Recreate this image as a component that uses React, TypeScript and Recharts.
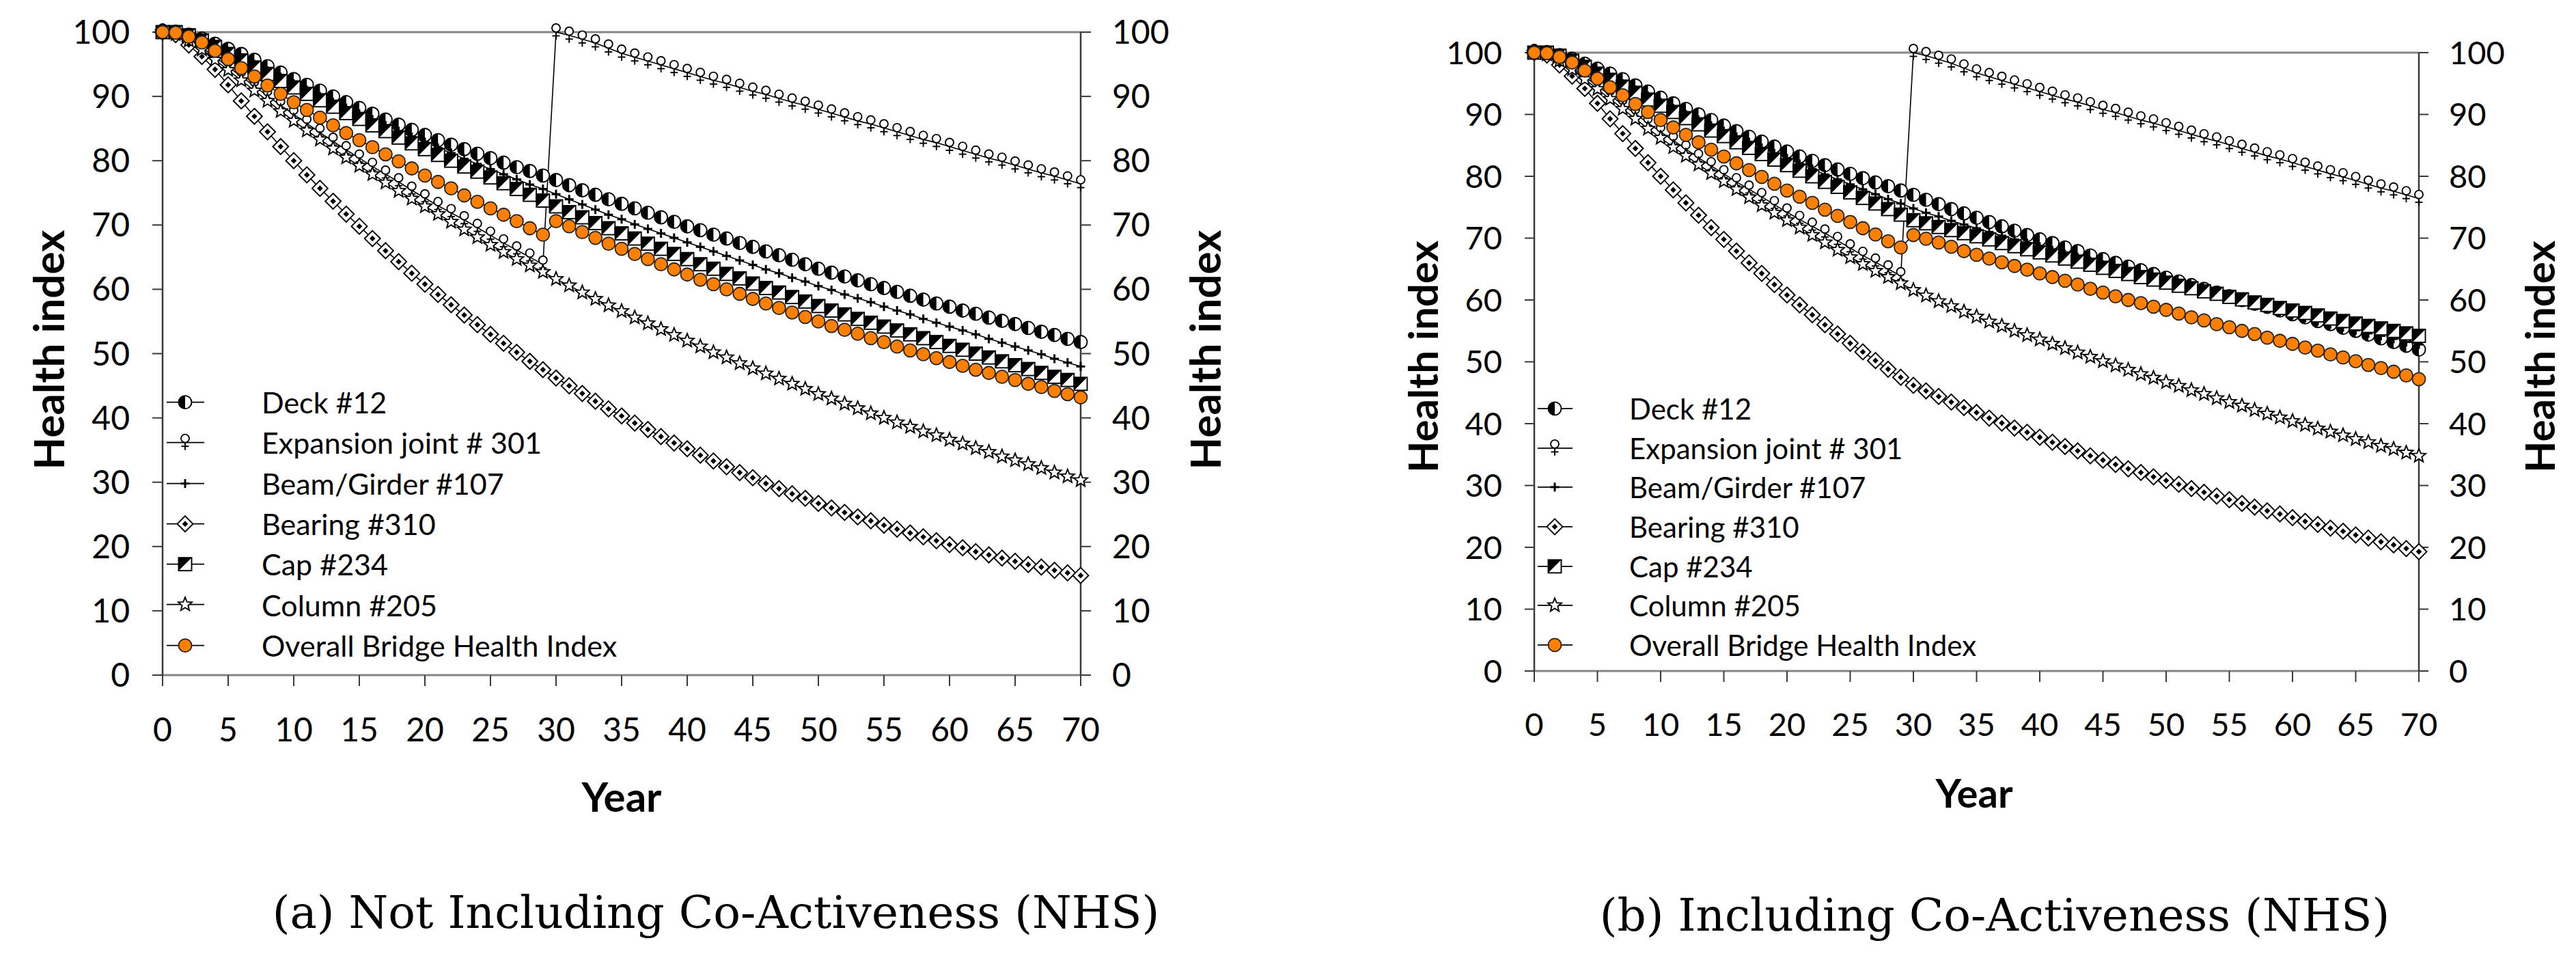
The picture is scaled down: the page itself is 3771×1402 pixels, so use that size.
import React from 'react';
import { LineChart, Line, XAxis, YAxis, Legend, ReferenceLine } from 'recharts';

// ---------- categories & ticks ----------
const years = [
  0, 1, 2, 3, 4, 5, 6, 7, 8, 9, 10, 11, 12, 13, 14, 15, 16, 17, 18, 19, 20,
  21, 22, 23, 24, 25, 26, 27, 28, 29, 30, 31, 32, 33, 34, 35, 36, 37, 38, 39, 40,
  41, 42, 43, 44, 45, 46, 47, 48, 49, 50, 51, 52, 53, 54, 55, 56, 57, 58, 59, 60,
  61, 62, 63, 64, 65, 66, 67, 68, 69, 70,
];
const xTicks = [0, 5, 10, 15, 20, 25, 30, 35, 40, 45, 50, 55, 60, 65, 70];
const yTicks = [0, 10, 20, 30, 40, 50, 60, 70, 80, 90, 100];

const seriesKeys = ['deck', 'exp', 'beam', 'bearing', 'cap', 'column', 'overall'];
const seriesLabels = [
  'Deck #12',
  'Expansion joint # 301',
  'Beam/Girder #107',
  'Bearing #310',
  'Cap #234',
  'Column #205',
  'Overall Bridge Health Index',
];

// ---------- (a) Not including co-activeness ----------
const deckA = [
  100, 100, 99.6, 99.0, 98.2, 97.4, 96.6, 95.7, 94.7, 93.7,
  92.7, 91.8, 90.9, 90.0, 89.1, 88.2, 87.3, 86.4, 85.6, 84.8,
  84.0, 83.2, 82.5, 81.8, 81.1, 80.4, 79.7, 79.0, 78.4, 77.7,
  77.0, 76.2, 75.4, 74.7, 74.0, 73.3, 72.6, 71.9, 71.2, 70.5,
  69.8, 69.2, 68.5, 67.9, 67.2, 66.6, 65.9, 65.3, 64.6, 63.9,
  63.2, 62.6, 62.0, 61.4, 60.8, 60.2, 59.6, 59.0, 58.4, 57.8,
  57.3, 56.7, 56.2, 55.6, 55.1, 54.6, 54.0, 53.4, 52.9, 52.3,
  51.8,
];
const expA = [
  100, 99.8, 98.9, 97.6, 96.1, 94.6, 93.1, 91.6, 90.1, 88.6,
  87.2, 85.8, 84.4, 83.0, 81.7, 80.4, 79.1, 77.9, 76.7, 75.4,
  74.2, 73.0, 71.9, 70.8, 69.6, 68.4, 67.2, 66.1, 65.0, 63.9,
  100, 99.5, 98.9, 98.3, 97.5, 96.7, 96.1, 95.5, 94.9, 94.3,
  93.7, 93.1, 92.5, 92.0, 91.4, 90.8, 90.3, 89.7, 89.1, 88.6,
  88.0, 87.4, 86.8, 86.2, 85.7, 85.1, 84.5, 83.9, 83.3, 82.8,
  82.2, 81.6, 81.0, 80.4, 79.9, 79.3, 78.7, 78.1, 77.6, 77.0,
  76.4,
];
const beamA = [
  100, 100, 99.6, 98.9, 98.0, 97.0, 96.0, 95.0, 94.0, 93.0,
  92.0, 91.0, 90.0, 89.1, 88.2, 87.3, 86.4, 85.5, 84.6, 83.7,
  82.9, 82.0, 81.2, 80.3, 79.5, 78.7, 77.9, 77.1, 76.3, 75.6,
  74.8, 74.0, 73.2, 72.4, 71.6, 70.9, 70.1, 69.4, 68.7, 68.0,
  67.3, 66.6, 65.9, 65.2, 64.5, 63.8, 63.1, 62.5, 61.8, 61.2,
  60.5, 59.9, 59.2, 58.6, 58.0, 57.3, 56.7, 56.1, 55.4, 54.8,
  54.2, 53.6, 53.0, 52.3, 51.7, 51.1, 50.5, 49.9, 49.2, 48.6,
  48.0,
];
const bearingA = [
  100, 99.6, 98.0, 96.2, 94.2, 91.8, 89.3, 86.9, 84.5, 82.2,
  80.0, 77.8, 75.7, 73.7, 71.7, 69.8, 67.9, 66.0, 64.3, 62.5,
  60.8, 59.2, 57.6, 56.0, 54.5, 53.0, 51.6, 50.2, 48.8, 47.5,
  46.2, 45.0, 43.8, 42.6, 41.4, 40.3, 39.2, 38.2, 37.1, 36.1,
  35.2, 34.2, 33.3, 32.4, 31.5, 30.7, 29.8, 29.0, 28.2, 27.5,
  26.7, 26.0, 25.3, 24.6, 24.0, 23.3, 22.7, 22.1, 21.5, 20.9,
  20.3, 19.8, 19.2, 18.7, 18.2, 17.7, 17.2, 16.8, 16.3, 15.9,
  15.5,
];
const capA = [
  100, 100, 99.5, 98.7, 97.7, 96.6, 95.6, 94.5, 93.5, 92.4,
  91.4, 90.4, 89.4, 88.4, 87.4, 86.5, 85.5, 84.6, 83.6, 82.7,
  81.8, 80.9, 80.0, 79.1, 78.3, 77.4, 76.5, 75.6, 74.7, 73.8,
  72.9, 72.0, 71.2, 70.3, 69.5, 68.7, 67.9, 67.1, 66.3, 65.5,
  64.7, 63.9, 63.2, 62.4, 61.7, 60.9, 60.2, 59.5, 58.8, 58.1,
  57.4, 56.7, 56.1, 55.4, 54.8, 54.2, 53.6, 53.0, 52.4, 51.8,
  51.2, 50.6, 50.0, 49.4, 48.8, 48.2, 47.6, 47.0, 46.4, 45.9,
  45.3,
];
const columnA = [
  100, 99.7, 98.7, 97.3, 95.7, 94.1, 92.5, 90.9, 89.3, 87.7,
  86.2, 84.7, 83.3, 81.9, 80.5, 79.2, 77.9, 76.6, 75.3, 74.1,
  72.9, 71.7, 70.5, 69.3, 68.1, 66.9, 65.8, 64.7, 63.7, 62.7,
  61.6, 60.6, 59.5, 58.5, 57.5, 56.6, 55.6, 54.7, 53.8, 52.9,
  52.0, 51.1, 50.2, 49.4, 48.5, 47.7, 46.9, 46.1, 45.3, 44.5,
  43.7, 43.0, 42.2, 41.5, 40.7, 40.0, 39.3, 38.6, 37.9, 37.3,
  36.6, 36.0, 35.3, 34.7, 34.0, 33.4, 32.8, 32.2, 31.5, 30.9,
  30.3,
];
const overallA = [
  100, 99.9, 99.3, 98.4, 97.1, 95.8, 94.4, 93.1, 91.7, 90.4,
  89.1, 87.9, 86.7, 85.5, 84.3, 83.2, 82.1, 81.0, 79.9, 78.8,
  77.7, 76.7, 75.7, 74.6, 73.6, 72.6, 71.6, 70.6, 69.5, 68.5,
  70.6, 69.8, 68.9, 68.0, 67.1, 66.3, 65.5, 64.7, 63.9, 63.1,
  62.3, 61.5, 60.8, 60.0, 59.3, 58.5, 57.8, 57.1, 56.4, 55.7,
  55.0, 54.3, 53.7, 53.1, 52.4, 51.8, 51.1, 50.5, 49.9, 49.3,
  48.7, 48.1, 47.5, 47.0, 46.4, 45.9, 45.3, 44.8, 44.2, 43.7,
  43.2,
];

// ---------- (b) Including co-activeness ----------
const deckB = [
  100, 100, 99.6, 99.0, 98.2, 97.4, 96.6, 95.7, 94.7, 93.7,
  92.7, 91.8, 90.9, 90.0, 89.1, 88.2, 87.3, 86.4, 85.6, 84.8,
  84.0, 83.2, 82.5, 81.8, 81.1, 80.4, 79.7, 79.0, 78.4, 77.7,
  77.0, 76.2, 75.5, 74.7, 74.0, 73.3, 72.6, 71.9, 71.2, 70.5,
  69.8, 69.2, 68.5, 67.9, 67.2, 66.6, 66.0, 65.4, 64.8, 64.2,
  63.6, 63.0, 62.4, 61.8, 61.2, 60.6, 60.0, 59.4, 58.9, 58.3,
  57.7, 57.2, 56.6, 56.1, 55.5, 55.0, 54.4, 53.8, 53.2, 52.6,
  52.0,
];
const expB = [
  100, 99.8, 98.9, 97.6, 96.1, 94.6, 93.1, 91.6, 90.1, 88.6,
  87.2, 85.8, 84.4, 83.0, 81.7, 80.4, 79.1, 77.9, 76.7, 75.4,
  74.2, 73.0, 71.9, 70.8, 69.6, 68.4, 67.2, 66.1, 65.0, 63.9,
  100, 99.5, 98.9, 98.3, 97.5, 96.7, 96.1, 95.5, 94.9, 94.3,
  93.7, 93.1, 92.5, 92.0, 91.4, 90.8, 90.3, 89.7, 89.1, 88.6,
  88.0, 87.4, 86.8, 86.2, 85.7, 85.1, 84.5, 83.9, 83.3, 82.8,
  82.2, 81.6, 81.0, 80.4, 79.9, 79.3, 78.7, 78.1, 77.6, 77.0,
  76.4,
];
const beamB = [
  100, 100, 99.6, 98.9, 98.0, 97.0, 96.0, 95.0, 94.0, 93.0,
  92.0, 91.0, 90.0, 89.1, 88.2, 87.3, 86.4, 85.5, 84.6, 83.7,
  82.9, 82.0, 81.2, 80.3, 79.5, 78.7, 77.9, 77.1, 76.3, 75.6,
  74.8, 74.1, 73.5, 72.8, 72.2, 71.6, 71.0, 70.4, 69.8, 69.2,
  68.6, 68.0, 67.4, 66.9, 66.3, 65.7, 65.1, 64.6, 64.0, 63.5,
  62.9, 62.4, 61.8, 61.3, 60.7, 60.2, 59.7, 59.1, 58.6, 58.1,
  57.6, 57.1, 56.6, 56.1, 55.6, 55.1, 54.6, 54.2, 53.7, 53.2,
  52.8,
];
const bearingB = [
  100, 99.6, 98.0, 96.2, 94.2, 91.8, 89.3, 86.9, 84.5, 82.2,
  80.0, 77.8, 75.7, 73.7, 71.7, 69.8, 67.9, 66.0, 64.3, 62.5,
  60.8, 59.2, 57.6, 56.0, 54.5, 53.0, 51.6, 50.2, 48.8, 47.5,
  46.2, 45.3, 44.4, 43.5, 42.6, 41.8, 40.9, 40.1, 39.3, 38.6,
  37.8, 37.0, 36.3, 35.6, 34.8, 34.1, 33.4, 32.7, 32.1, 31.4,
  30.8, 30.2, 29.5, 28.9, 28.3, 27.7, 27.1, 26.5, 25.9, 25.4,
  24.8, 24.2, 23.7, 23.1, 22.6, 22.0, 21.5, 20.9, 20.4, 19.8,
  19.3,
];
const capB = [
  100, 100, 99.5, 98.7, 97.7, 96.6, 95.6, 94.5, 93.5, 92.4,
  91.4, 90.4, 89.4, 88.4, 87.4, 86.5, 85.5, 84.6, 83.6, 82.7,
  81.8, 80.9, 80.0, 79.1, 78.3, 77.4, 76.5, 75.6, 74.7, 73.8,
  72.9, 72.4, 71.8, 71.3, 70.8, 70.3, 69.8, 69.2, 68.7, 68.2,
  67.7, 67.2, 66.7, 66.2, 65.7, 65.2, 64.7, 64.2, 63.7, 63.3,
  62.8, 62.3, 61.9, 61.4, 61.0, 60.5, 60.1, 59.6, 59.2, 58.7,
  58.3, 57.9, 57.5, 57.0, 56.6, 56.2, 55.8, 55.4, 55.0, 54.6,
  54.2,
];
const columnB = [
  100, 99.7, 98.7, 97.3, 95.7, 94.1, 92.5, 90.9, 89.3, 87.7,
  86.2, 84.7, 83.3, 81.9, 80.5, 79.2, 77.9, 76.6, 75.3, 74.1,
  72.9, 71.7, 70.5, 69.3, 68.1, 66.9, 65.8, 64.7, 63.7, 62.7,
  61.6, 60.7, 59.8, 59.0, 58.1, 57.3, 56.5, 55.8, 55.0, 54.3,
  53.6, 52.9, 52.2, 51.5, 50.8, 50.1, 49.4, 48.7, 48.0, 47.4,
  46.7, 46.1, 45.4, 44.8, 44.1, 43.5, 42.9, 42.2, 41.6, 41.0,
  40.4, 39.8, 39.2, 38.7, 38.1, 37.5, 37.0, 36.4, 35.9, 35.3,
  34.8,
];
const overallB = [
  100, 99.9, 99.3, 98.4, 97.1, 95.8, 94.4, 93.1, 91.7, 90.4,
  89.1, 87.9, 86.7, 85.5, 84.3, 83.2, 82.1, 81.0, 79.9, 78.8,
  77.7, 76.7, 75.7, 74.6, 73.6, 72.6, 71.6, 70.6, 69.5, 68.5,
  70.5, 69.9, 69.3, 68.6, 67.9, 67.3, 66.7, 66.1, 65.5, 64.9,
  64.3, 63.7, 63.1, 62.5, 61.8, 61.2, 60.6, 60.0, 59.5, 58.9,
  58.4, 57.8, 57.2, 56.7, 56.1, 55.6, 55.0, 54.5, 53.9, 53.4,
  52.9, 52.3, 51.8, 51.2, 50.7, 50.1, 49.5, 49.0, 48.4, 47.8,
  47.2,
];

const buildRows = (s: number[][]) =>
  years.map((year, i) => ({
    year,
    deck: s[0][i],
    exp: s[1][i],
    beam: s[2][i],
    bearing: s[3][i],
    cap: s[4][i],
    column: s[5][i],
    overall: s[6][i],
  }));

const dataA = buildRows([deckA, expA, beamA, bearingA, capA, columnA, overallA]);
const dataB = buildRows([deckB, expB, beamB, bearingB, capB, columnB, overallB]);

// ---------- styling ----------
const FONT = "Lato, 'Open Sans', sans-serif";
const SERIF = "'DejaVu Serif', 'Liberation Serif', serif";
const ORANGE = '#FF8000';
const INK = '#000';

function Marker({ kind, cx, cy }: { kind: string; cx: number; cy: number }) {
  const sw = 1.9;
  switch (kind) {
    case 'deck': {
      const r = 9.5;
      return (
        <g>
          <circle cx={cx} cy={cy} r={r} fill="#fff" stroke={INK} strokeWidth={sw} />
          <path d={`M ${cx} ${cy - r} A ${r} ${r} 0 0 0 ${cx} ${cy + r} Z`} fill={INK} />
        </g>
      );
    }
    case 'exp':
      return (
        <g stroke={INK} strokeWidth={sw}>
          <line x1={cx} y1={cy - 0.5} x2={cx} y2={cy + 11} />
          <line x1={cx - 5.5} y1={cy + 5.5} x2={cx + 5.5} y2={cy + 5.5} />
          <circle cx={cx} cy={cy - 6} r={6} fill="#fff" />
        </g>
      );
    case 'beam':
      return (
        <g stroke={INK} strokeWidth={3}>
          <line x1={cx - 6.5} y1={cy} x2={cx + 6.5} y2={cy} />
          <line x1={cx} y1={cy - 6.5} x2={cx} y2={cy + 6.5} />
        </g>
      );
    case 'bearing': {
      const h = 11.5;
      const d = 4.3;
      return (
        <g>
          <path
            d={`M ${cx} ${cy - h} L ${cx + h} ${cy} L ${cx} ${cy + h} L ${cx - h} ${cy} Z`}
            fill="#fff"
            stroke={INK}
            strokeWidth={sw}
          />
          <path d={`M ${cx} ${cy - d} L ${cx + d} ${cy} L ${cx} ${cy + d} L ${cx - d} ${cy} Z`} fill={INK} />
        </g>
      );
    }
    case 'cap': {
      const h = 9.5;
      return (
        <g>
          <rect x={cx - h} y={cy - h} width={2 * h} height={2 * h} fill="#fff" stroke={INK} strokeWidth={sw} />
          <path d={`M ${cx - h} ${cy - h} L ${cx + h} ${cy - h} L ${cx - h} ${cy + h} Z`} fill={INK} />
        </g>
      );
    }
    case 'column': {
      const ro = 10.5;
      const ri = 4.6;
      const pts: string[] = [];
      for (let k = 0; k < 10; k++) {
        const rr = k % 2 === 0 ? ro : ri;
        const a = -Math.PI / 2 + (k * Math.PI) / 5;
        pts.push(`${cx + rr * Math.cos(a)},${cy + rr * Math.sin(a)}`);
      }
      return <polygon points={pts.join(' ')} fill="#fff" stroke={INK} strokeWidth={sw} />;
    }
    default:
      return <circle cx={cx} cy={cy} r={9.5} fill={ORANGE} stroke="#222" strokeWidth={1.8} />;
  }
}

const dotRenderer = (kind: string) => (props: any) => {
  const { cx, cy, index } = props;
  if (cx == null || cy == null) return <g key={`${kind}-${index}`} />;
  return <Marker key={`${kind}-${index}`} kind={kind} cx={cx} cy={cy} />;
};

type PanelCfg = {
  left: number;
  width: number;
  height: number;
  top: number;
  yLeftW: number;
  yRightW: number;
  xAxisH: number;
  tickFont: number;
  tickLen: number;
  yTickMargin: number;
  yRightTickMargin: number;
  xTickMargin: number;
  titleFont: number;
  yearFont: number;
  leftTitleX: number;
  rightTitleX: number;
  titleMidY: number;
  yearX: number;
  yearY: number;
  legLeft: number;
  legTop: number;
  legRowH: number;
  legIconW: number;
  legLineX1: number;
  legLineX2: number;
  legMarkerX: number;
  legFont: number;
};

const cfgA: PanelCfg = {
  left: 0, width: 1800, height: 1250, top: 47,
  yLeftW: 238, yRightW: 218, xAxisH: 262,
  tickFont: 48, tickLen: 15, yTickMargin: 33, yRightTickMargin: 31, xTickMargin: 47,
  titleFont: 62, yearFont: 60, leftTitleX: 70, rightTitleX: 1763, titleMidY: 512,
  yearX: 910, yearY: 1165,
  legLeft: 240, legTop: 559, legRowH: 59.3, legIconW: 143, legLineX1: 4, legLineX2: 59, legMarkerX: 31, legFont: 43,
};

const cfgB: PanelCfg = {
  left: 1900, width: 1871, height: 1250, top: 77,
  yLeftW: 346, yRightW: 230, xAxisH: 268,
  tickFont: 47, tickLen: 14, yTickMargin: 33, yRightTickMargin: 30, xTickMargin: 46,
  titleFont: 60, yearFont: 58, leftTitleX: 182, rightTitleX: 1817, titleMidY: 522,
  yearX: 990, yearY: 1159,
  legLeft: 347, legTop: 569, legRowH: 57.7, legIconW: 138, legLineX1: 4, legLineX2: 55, legMarkerX: 29, legFont: 42,
};

function LegendBox({ cfg }: { cfg: PanelCfg }) {
  return (
    <div style={{ fontFamily: FONT }}>
      {seriesKeys.map((k, i) => (
        <div key={k} style={{ display: 'flex', alignItems: 'center', height: cfg.legRowH }}>
          <svg width={cfg.legIconW} height={cfg.legRowH} style={{ display: 'block', flex: 'none' }}>
            <line
              x1={cfg.legLineX1}
              x2={cfg.legLineX2}
              y1={cfg.legRowH / 2}
              y2={cfg.legRowH / 2}
              stroke={INK}
              strokeWidth={1.8}
            />
            <Marker kind={k} cx={cfg.legMarkerX} cy={cfg.legRowH / 2} />
          </svg>
          <span style={{ fontSize: cfg.legFont, color: '#000', whiteSpace: 'nowrap', lineHeight: 1 }}>
            {seriesLabels[i]}
          </span>
        </div>
      ))}
    </div>
  );
}

function Panel({ data, cfg }: { data: any[]; cfg: PanelCfg }) {
  const axisDark = { stroke: '#3a3a3a', strokeWidth: 2.5 };
  const axisGray = { stroke: '#858585', strokeWidth: 3 };
  const tickStyle = { fill: '#000', fontSize: cfg.tickFont, fontFamily: FONT };
  const titleStyle = { fontFamily: FONT, fontWeight: 700, fontSize: cfg.titleFont, fill: '#000' } as any;
  const yearStyle = { ...titleStyle, fontSize: cfg.yearFont };

  const vTitle = (x: number) => () => (
    <text
      x={x}
      y={cfg.titleMidY}
      transform={`rotate(-90, ${x}, ${cfg.titleMidY})`}
      textAnchor="middle"
      dominantBaseline="central"
      style={titleStyle}
    >
      Health index
    </text>
  );
  const yearTitle = () => (
    <text x={cfg.yearX} y={cfg.yearY} textAnchor="middle" dominantBaseline="central" style={yearStyle}>
      Year
    </text>
  );

  return (
    <div style={{ position: 'absolute', left: cfg.left, top: 0, width: cfg.width, height: cfg.height }}>
      <LineChart
        width={cfg.width}
        height={cfg.height}
        data={data}
        margin={{ top: cfg.top, right: 0, bottom: 0, left: 0 }}
      >
        <XAxis
          dataKey="year"
          type="number"
          domain={[0, 70]}
          ticks={xTicks}
          interval={0}
          height={cfg.xAxisH}
          tickSize={16}
          tickMargin={cfg.xTickMargin}
          axisLine={axisGray}
          tickLine={{ stroke: '#3a3a3a', strokeWidth: 2 }}
          tick={tickStyle}
          label={yearTitle}
        />
        <YAxis
          yAxisId="left"
          type="number"
          domain={[0, 100]}
          ticks={yTicks}
          interval={0}
          width={cfg.yLeftW}
          tickSize={cfg.tickLen}
          tickMargin={cfg.yTickMargin}
          axisLine={axisDark}
          tickLine={{ stroke: '#3a3a3a', strokeWidth: 2 }}
          tick={tickStyle}
          label={vTitle(cfg.leftTitleX)}
        />
        <YAxis
          yAxisId="right"
          orientation="right"
          type="number"
          domain={[0, 100]}
          ticks={yTicks}
          interval={0}
          width={cfg.yRightW}
          tickSize={cfg.tickLen}
          tickMargin={cfg.yRightTickMargin}
          axisLine={axisDark}
          tickLine={{ stroke: '#3a3a3a', strokeWidth: 2 }}
          tick={tickStyle}
          label={vTitle(cfg.rightTitleX)}
        />
        <ReferenceLine yAxisId="left" y={100} stroke="#858585" strokeWidth={3} ifOverflow="visible" />
        <Legend
          layout="horizontal"
          verticalAlign="middle"
          align="center"
          wrapperStyle={{ left: cfg.legLeft, top: cfg.legTop, width: 700, height: cfg.legRowH * 7 }}
          content={() => <LegendBox cfg={cfg} />}
        />
        {seriesKeys.map((k, i) => (
          <Line
            key={k}
            yAxisId={k === 'overall' ? 'right' : 'left'}
            type="linear"
            dataKey={k}
            name={seriesLabels[i]}
            stroke={INK}
            strokeWidth={1.6}
            dot={dotRenderer(k)}
            activeDot={false}
            isAnimationActive={false}
          />
        ))}
      </LineChart>
    </div>
  );
}

export default function App() {
  return (
    <div
      style={{
        position: 'absolute',
        left: 0,
        top: 0,
        width: 3771,
        height: 1402,
        background: '#fff',
        overflow: 'hidden',
      }}
    >
      <Panel data={dataA} cfg={cfgA} />
      <Panel data={dataB} cfg={cfgB} />
      <div
        style={{
          position: 'absolute',
          left: 1048 - 900,
          top: 1336 - 40,
          width: 1800,
          height: 80,
          lineHeight: '80px',
          textAlign: 'center',
          fontFamily: SERIF,
          fontSize: 66,
          color: '#000',
          whiteSpace: 'nowrap',
        }}
      >
        (a) Not Including Co-Activeness (NHS)
      </div>
      <div
        style={{
          position: 'absolute',
          left: 2920 - 900,
          top: 1340 - 40,
          width: 1800,
          height: 80,
          lineHeight: '80px',
          textAlign: 'center',
          fontFamily: SERIF,
          fontSize: 66,
          color: '#000',
          whiteSpace: 'nowrap',
        }}
      >
        (b) Including Co-Activeness (NHS)
      </div>
    </div>
  );
}
